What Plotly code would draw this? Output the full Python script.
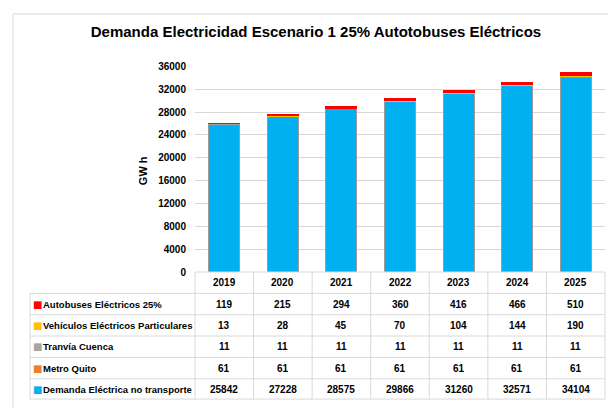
import plotly.graph_objects as go

years = ["2019", "2020", "2021", "2022", "2023", "2024", "2025"]
demanda_no_transporte = [25842, 27228, 28575, 29866, 31260, 32571, 34104]
metro_quito = [61, 61, 61, 61, 61, 61, 61]
tranvia_cuenca = [11, 11, 11, 11, 11, 11, 11]
vehiculos_particulares = [13, 28, 45, 70, 104, 144, 190]
autobuses_25 = [119, 215, 294, 360, 416, 466, 510]

series_names = ["Demanda Eléctrica no transporte", "Metro Quito", "Tranvía Cuenca",
                "Vehículos Eléctricos Particulares", "Autobuses Eléctricos 25%"]
series_values = [demanda_no_transporte, metro_quito, tranvia_cuenca,
                 vehiculos_particulares, autobuses_25]
series_colors = ["#00B0F0", "#ED7D31", "#A5A5A5", "#FFC000", "#FF0000"]
series_edges = ["#9a9a9a", "#ED7D31", "#A5A5A5", "#FFC000", "#FF0000"]

# page body has an 8px margin, so the figure is sized to fill the rest of the window
OFF = 8
W, H = 616 - OFF, 408 - OFF
def px_x(p): return (p - OFF) / W
def px_y(p): return (H - (p - OFF)) / H

FONT = "Liberation Sans, Arial"
GRID = "#d9d9d9"

fig = go.Figure()
for name, vals, col, edge in zip(series_names, series_values, series_colors, series_edges):
    fig.add_trace(go.Bar(x=years, y=vals, name=name, marker_color=col,
                         marker_line_color=edge, marker_line_width=1))

plot_l, plot_r = 195, 605
tab_l = 30
tab_top = 274
row_h = 22
n_rows = len(series_names) + 1
col_w = (plot_r - plot_l) / len(years)

shapes = []
annotations = []

# outer frame (left and top edges)
shapes.append(dict(type="line", xref="paper", yref="paper", x0=px_x(13), x1=px_x(13),
                   y0=-0.02, y1=px_y(8), line=dict(color=GRID, width=1), layer="below"))
shapes.append(dict(type="line", xref="paper", yref="paper", x0=px_x(13), x1=1.02,
                   y0=px_y(8), y1=px_y(8), line=dict(color=GRID, width=1), layer="below"))

# table grid
row_lines = [tab_top + k * row_h for k in range(n_rows + 1)]
row_lines[-1] = 405
for k, yl in enumerate(row_lines):
    x0 = plot_l if k == 0 else tab_l
    shapes.append(dict(type="line", xref="paper", yref="paper", x0=px_x(x0), x1=px_x(plot_r),
                       y0=px_y(yl), y1=px_y(yl), line=dict(color=GRID, width=1)))
shapes.append(dict(type="line", xref="paper", yref="paper", x0=px_x(tab_l), x1=px_x(tab_l),
                   y0=px_y(row_lines[1]), y1=px_y(row_lines[-1]), line=dict(color=GRID, width=1)))
for j in range(len(years) + 1):
    xl = plot_l + j * col_w
    shapes.append(dict(type="line", xref="paper", yref="paper", x0=px_x(xl), x1=px_x(xl),
                       y0=px_y(row_lines[0]), y1=px_y(row_lines[-1]), line=dict(color=GRID, width=1)))

# header years (category index positions on the x axis)
for j, yr in enumerate(years):
    annotations.append(dict(text=f"<b>{yr}</b>", x=j, xref="x", y=px_y(tab_top + row_h / 2),
                            yref="paper", showarrow=False, yanchor="middle",
                            font=dict(family=FONT, size=10, color="black")))

# rows: top row is top of stack
order = list(range(len(series_names)))[::-1]
for r, i in enumerate(order):
    yc = px_y(tab_top + (r + 1) * row_h + row_h / 2)
    annotations.append(dict(text="■", x=px_x(tab_l + 1), xref="paper", xanchor="left",
                            y=yc, yref="paper", yanchor="middle", showarrow=False,
                            font=dict(family="DejaVu Sans", size=10, color=series_colors[i])))
    annotations.append(dict(text=f"<b>{series_names[i]}</b>", x=px_x(tab_l + 11), xref="paper",
                            xanchor="left", y=yc, yref="paper", yanchor="middle", showarrow=False,
                            font=dict(family=FONT, size=9.5, color="black")))
    for j, yr in enumerate(years):
        annotations.append(dict(text=f"<b>{series_values[i][j]}</b>", x=j, xref="x",
                                y=yc, yref="paper", yanchor="middle", showarrow=False,
                                font=dict(family=FONT, size=10, color="black")))

annotations.append(dict(text="<b>GW h</b>", textangle=-90, x=px_x(135), y=px_y(170),
                        xref="paper", yref="paper", showarrow=False,
                        font=dict(family=FONT, size=11, color="black")))

fig.update_layout(
    width=W, height=H, autosize=False,
    margin=dict(l=0, r=0, t=0, b=0),
    paper_bgcolor="white", plot_bgcolor="white",
    barmode="stack", bargap=0.47, showlegend=False,
    title=dict(text="<b>Demanda Electricidad Escenario 1 25% Autotobuses Eléctricos</b>",
               x=px_x(316), xanchor="center", y=px_y(32), yanchor="middle",
               font=dict(family=FONT, size=15, color="black")),
    xaxis=dict(type="category", domain=[px_x(plot_l), px_x(plot_r)], showticklabels=False,
               showgrid=False, zeroline=False, showline=False, ticks=""),
    yaxis=dict(domain=[px_y(274), px_y(62)], range=[0, 36000], dtick=4000, tickformat="d",
               showgrid=True, gridcolor=GRID, gridwidth=1, zeroline=False,
               showline=False, ticks="outside", ticklen=6, tickcolor="white",
               tickfont=dict(family=FONT, size=10, color="black", weight="bold")),
    annotations=annotations,
    shapes=shapes,
)

fig.write_html("out.html")
